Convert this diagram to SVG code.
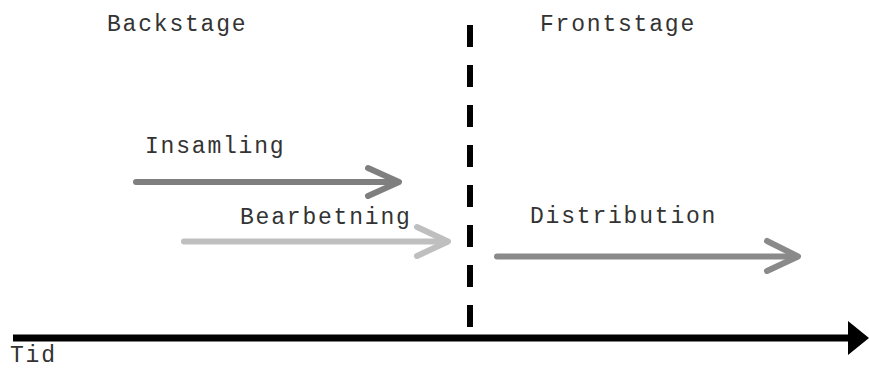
<svg xmlns="http://www.w3.org/2000/svg" width="869" height="369" viewBox="0 0 869 369">
<style>
text{font-family:"Liberation Mono","DejaVu Sans Mono",monospace;font-size:23px;letter-spacing:1.8px;fill:#333}
.a{fill:none;stroke-width:6;stroke-linecap:round;stroke-linejoin:round}
</style>
<rect width="869" height="369" fill="#fff"/>
<g id="backstage"><text x="107" y="31">Backstage</text></g>
<g id="frontstage"><text x="540" y="31">Frontstage</text></g>
<g id="divider"><line x1="470" y1="25" x2="470" y2="330" stroke="#000" stroke-width="6" stroke-dasharray="22 18"/></g>
<g id="insamling"><text x="145" y="153">Insamling</text></g>
<g id="bearbetning"><text x="240" y="224">Bearbetning</text></g>
<g id="distribution"><text x="530" y="223">Distribution</text></g>
<g id="tid"><text x="10" y="362">Tid</text></g>
<g id="connectors">
<g stroke="#7f7f7f" class="a"><line x1="136" y1="182" x2="397" y2="182"/><polyline points="368,168 399,182 368,196"/></g>
<g stroke="#bfbfbf" class="a"><line x1="184" y1="241.5" x2="447" y2="241.5"/><polyline points="417,227 448,241.5 417,256"/></g>
<g stroke="#8a8a8a" class="a"><line x1="497" y1="256.5" x2="797" y2="256.5"/><polyline points="767,241 798,256.5 767,271"/></g>
<line x1="13" y1="338" x2="850" y2="338" stroke="#000" stroke-width="7"/>
<polygon points="848,321 869,338 848,355" fill="#000"/>
</g>
</svg>
